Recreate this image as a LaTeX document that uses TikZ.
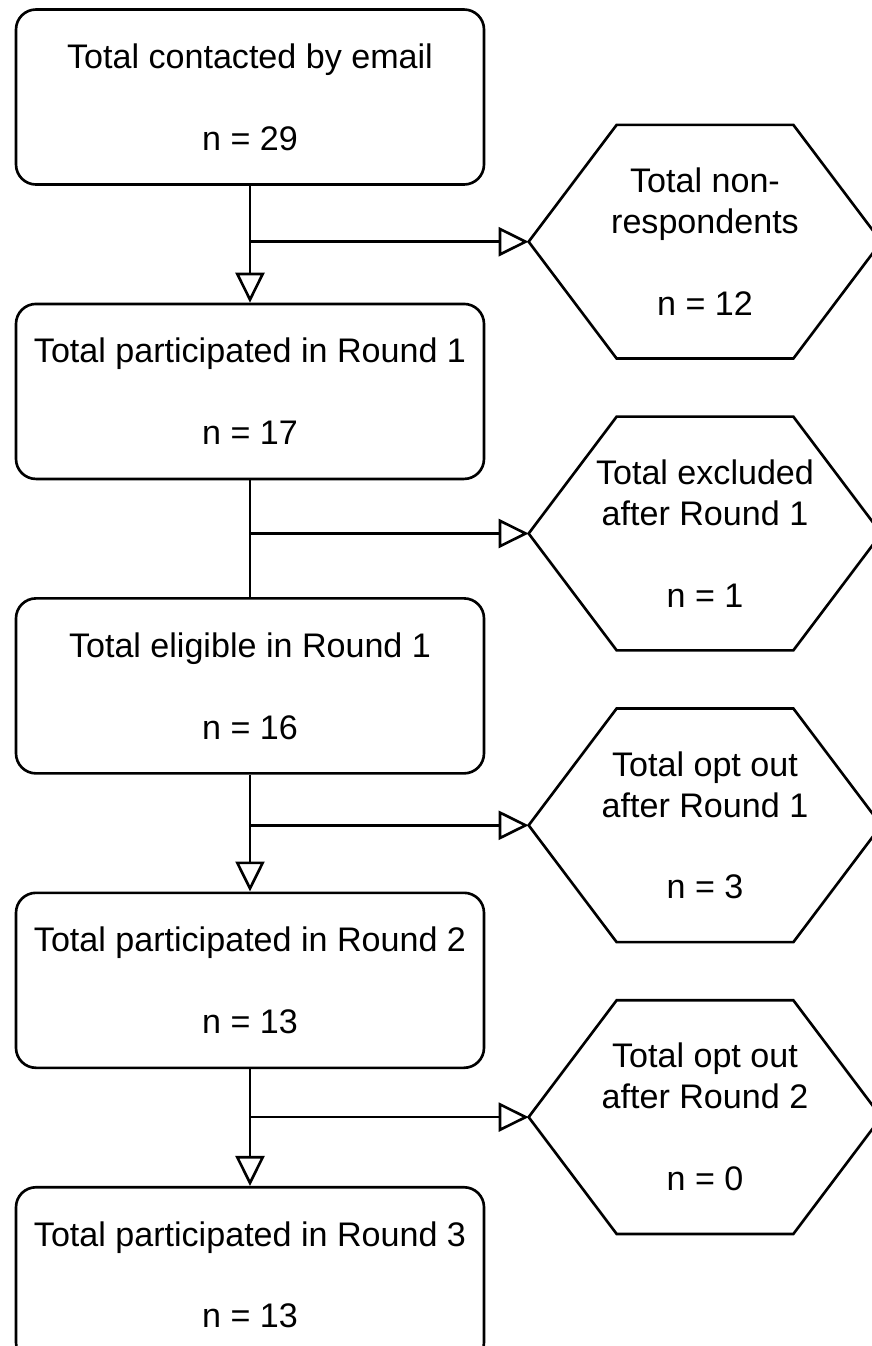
\documentclass[tikz,border=0pt]{standalone}
\usepackage{fontspec}
\setmainfont{Liberation Sans}
\usetikzlibrary{positioning,arrows.meta}

\tikzset{
  stagebox/.style={draw,line width=1.5pt,rounded corners=0.4cm,minimum width=9.36cm,minimum height=3.5cm,align=center,inner sep=0pt},
  hexbox/.style={minimum width=7.04cm,minimum height=4.66cm,align=center,inner sep=0pt},
  hexline/.style={line width=1.5pt,line join=miter},
  flow/.style={line width=1.5pt,-{Triangle[open,length=0.6cm,width=0.58cm]}},
  link/.style={line width=1.5pt}
}

\begin{document}
\begin{tikzpicture}[font=\fontsize{19.4pt}{23.3pt}\selectfont]

\useasboundingbox[fill=white] (0,0) rectangle (17.44,-26.92);

% stages down the left
\node[stagebox] (contacted) at (5,-1.94) {Total contacted by email\\[\baselineskip]n = 29};
\node[stagebox,below=2.336cm of contacted] (round1) {Total participated in Round 1\\[\baselineskip]n = 17};
\node[stagebox,below=2.336cm of round1] (eligible) {Total eligible in Round 1\\[\baselineskip]n = 16};
\node[stagebox,below=2.336cm of eligible] (round2) {Total participated in Round 2\\[\baselineskip]n = 13};
\node[stagebox,below=2.336cm of round2] (round3) {Total participated in Round 3\\[\baselineskip]n = 13};

% drop-outs on the right
\node[hexbox] (nonresp) at (14.1,-4.834) {Total non-\\respondents\\[\baselineskip]n = 12};
\node[hexbox] (excluded) at (14.1,-10.67) {Total excluded\\after Round 1\\[\baselineskip]n = 1};
\node[hexbox] (optout1) at (14.1,-16.506) {Total opt out\\after Round 1\\[\baselineskip]n = 3};
\node[hexbox] (optout2) at (14.1,-22.342) {Total opt out\\after Round 2\\[\baselineskip]n = 0};

\foreach \h in {nonresp,excluded,optout1,optout2}
  \draw[hexline] (\h.west) -- ([xshift=1.76cm]\h.north west) -- ([xshift=-1.76cm]\h.north east)
    -- (\h.east) -- ([xshift=-1.76cm]\h.south east) -- ([xshift=1.76cm]\h.south west) -- cycle;

% main flow
\draw[flow] (contacted) -- (round1);
\draw[link] (round1) -- (eligible);
\draw[flow] (eligible) -- (round2);
\draw[flow] (round2) -- (round3);

% branches
\draw[flow] (nonresp.west -| contacted.south) -- (nonresp.west);
\draw[flow] (excluded.west -| round1.south) -- (excluded.west);
\draw[flow] (optout1.west -| eligible.south) -- (optout1.west);
\draw[flow] (optout2.west -| round2.south) -- (optout2.west);

\end{tikzpicture}
\end{document}
